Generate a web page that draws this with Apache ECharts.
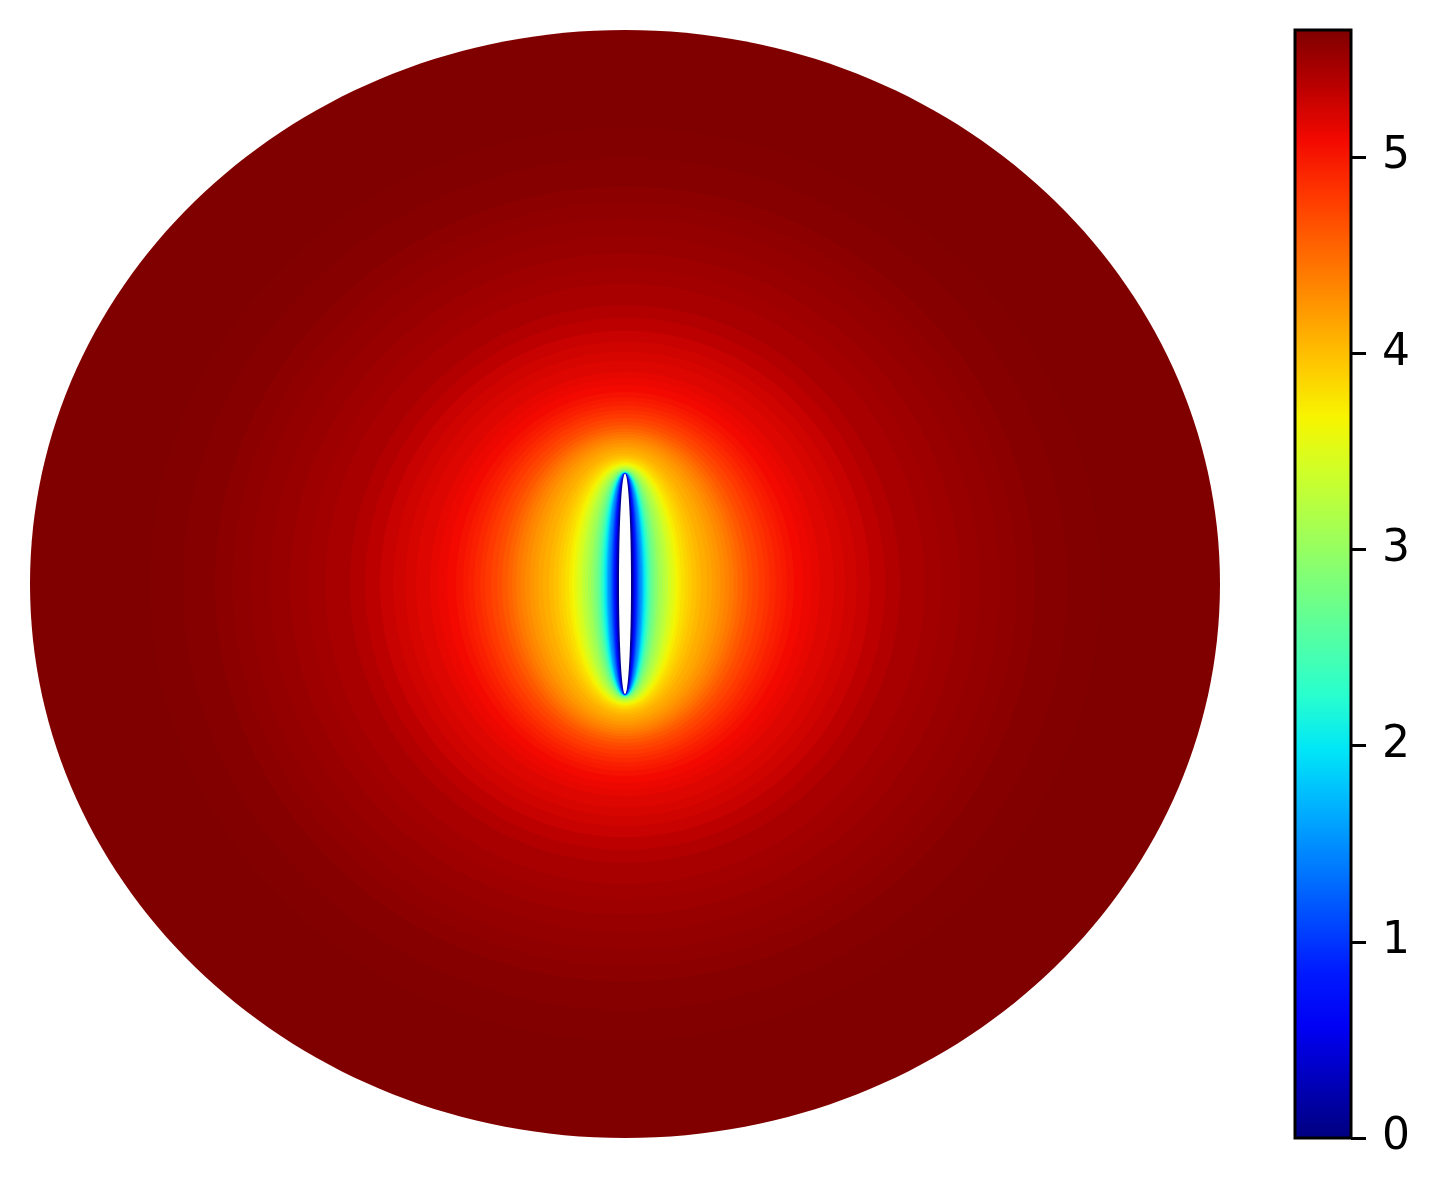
<!DOCTYPE html>
<html>
<head>
<meta charset="utf-8">
<script src="https://cdn.jsdelivr.net/npm/echarts@6/dist/echarts.min.js"></script>
<style>
  html, body { margin: 0; padding: 0; background: #fff; }
  #chart { width: 1436px; height: 1194px; }
</style>
</head>
<body>
<div id="chart"></div>
<script>
// the disk: radius 1, value at its rim
const diskRadius = 1;
const diskValue = 5.647;
// level lines are confocal ellipses around the slit; half width (x axis units) and value
const ringHalfWidth = [0.8571, 0.7983, 0.7429, 0.6891, 0.6588, 0.6303, 0.5966, 0.5630, 0.5328, 0.5042,
  0.4622, 0.4370, 0.4118, 0.3899, 0.3698, 0.3513, 0.3277, 0.3143, 0.2992, 0.2840,
  0.2723, 0.2639, 0.2538, 0.2437, 0.2353, 0.2252, 0.2151, 0.2067, 0.1975, 0.1899,
  0.1832, 0.1756, 0.1681, 0.1605, 0.1529, 0.1462, 0.1378, 0.1277, 0.1202, 0.1126,
  0.1067, 0.1008, 0.0941, 0.0891, 0.0857, 0.0815, 0.0773, 0.0723, 0.0672, 0.0622,
  0.0571, 0.0538, 0.0504, 0.0471, 0.0445, 0.0420, 0.0403, 0.0387, 0.0370, 0.0353,
  0.0336, 0.0319, 0.0303, 0.0286, 0.0261, 0.0235, 0.0219, 0.0202, 0.0185, 0.0168,
  0.0151, 0.0135, 0.0118];
const ringValue = [5.647, 5.635, 5.61, 5.59, 5.57, 5.55, 5.53, 5.50, 5.48, 5.45,
  5.40, 5.35, 5.30, 5.26, 5.22, 5.19, 5.15, 5.12, 5.08, 5.03,
  4.99, 4.95, 4.90, 4.85, 4.80, 4.74, 4.68, 4.61, 4.54, 4.48,
  4.42, 4.36, 4.30, 4.25, 4.20, 4.15, 4.10, 4.04, 3.98, 3.92,
  3.86, 3.80, 3.72, 3.65, 3.58, 3.50, 3.42, 3.30, 3.20, 3.10,
  3.00, 2.90, 2.80, 2.70, 2.60, 2.50, 2.40, 2.30, 2.20, 2.10,
  2.00, 1.85, 1.70, 1.55, 1.40, 1.25, 1.10, 0.95, 0.80, 0.65,
  0.40, 0.15, 0.05];
// slit: foci at (0, ±slitFocus); the slit itself holds no data and stays white
const slitFocus = 0.1986;
const slitHalfWidth = 0.0101;

const colorMin = 0;
const colorMax = 5.647;
const colorbarTicks = [0, 1, 2, 3, 4, 5];

// jet
const jet = ['#000080', '#0000b9', '#0000f4', '#001aff', '#004dff', '#0080ff', '#00b3ff',
  '#00e6f7', '#29ffce', '#52ffa5', '#7bff7b', '#a5ff52', '#ceff29', '#f7f500', '#ffc600',
  '#ff9700', '#ff6800', '#ff3900', '#f40900', '#b90000', '#800000'];

const rings = ringHalfWidth.map((w, i) => [w, ringValue[i]]);

// ellipse with half widths w, h around the middle of the disk
function ellipse(api, w, h, fill) {
  const c = api.coord([0, 0]);
  const s = api.size([w, h]);
  return {
    type: 'ellipse',
    shape: { cx: c[0], cy: c[1], rx: s[0], ry: s[1] },
    style: { fill: fill, stroke: null },
    silent: true
  };
}

const myChart = echarts.init(document.getElementById('chart'));
myChart.setOption({
  animation: false,
  backgroundColor: '#fff',
  grid: [
    { left: 30, top: 30, width: 1190, height: 1108 },
    { left: 1295, top: 30, width: 56, height: 1108, show: true, borderColor: '#000', borderWidth: 3, backgroundColor: 'transparent', z: 10 }
  ],
  xAxis: [
    { gridIndex: 0, type: 'value', min: -1, max: 1, show: false },
    { gridIndex: 1, type: 'value', min: 0, max: 1, show: false }
  ],
  yAxis: [
    { gridIndex: 0, type: 'value', min: -1, max: 1, show: false },
    {
      gridIndex: 1, type: 'value', min: colorMin, max: colorMax, position: 'right', z: 10,
      axisLine: { show: false, onZero: false },
      splitLine: { show: false },
      axisTick: { show: true, inside: false, length: 15, lineStyle: { color: '#000', width: 3 }, customValues: colorbarTicks },
      axisLabel: {
        show: true, margin: 31, color: '#000', fontSize: 44,
        fontFamily: 'DejaVu Sans', customValues: colorbarTicks
      }
    }
  ],
  visualMap: {
    type: 'continuous',
    seriesIndex: [0, 1],
    dimension: 1,
    min: colorMin,
    max: colorMax,
    calculable: false,
    hoverLink: false,
    orient: 'vertical',
    left: 1295,
    top: 30,
    padding: 0,
    itemWidth: 56,
    itemHeight: 1108,
    text: null,
    inRange: { color: jet }
  },
  series: [
    {
      type: 'custom',
      name: 'disk',
      clip: false,
      encode: { x: 0 },
      data: [[diskRadius, diskValue]],
      renderItem: (params, api) => ellipse(api, api.value(0), api.value(0), api.visual('color'))
    },
    {
      type: 'custom',
      name: 'field',
      clip: false,
      encode: { x: 0 },
      data: rings,
      renderItem: (params, api) => {
        const w = api.value(0);
        // confocal: all level ellipses share the slit tips as foci
        return ellipse(api, w, Math.sqrt(w * w + slitFocus * slitFocus), api.visual('color'));
      }
    },
    {
      type: 'custom',
      name: 'slit',
      clip: false,
      encode: { x: 0 },
      data: [[slitHalfWidth]],
      renderItem: (params, api) => {
        const w = api.value(0);
        return ellipse(api, w, Math.sqrt(w * w + slitFocus * slitFocus), '#fff');
      }
    }
  ]
});
</script>
</body>
</html>
